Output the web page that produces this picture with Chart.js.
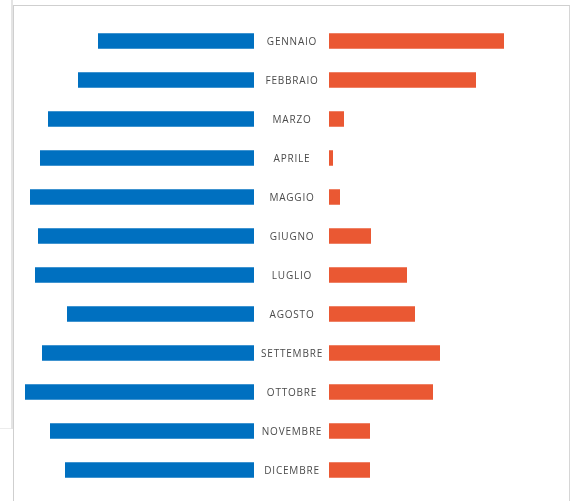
<!DOCTYPE html>
<html>
<head>
<meta charset="utf-8">
<script src="https://cdn.jsdelivr.net/npm/chart.js@4.4.1/dist/chart.umd.min.js"></script>
<style>
  html, body { margin: 0; padding: 0; background: #ffffff; }
  body { width: 573px; height: 501px; position: relative; overflow: hidden; }
  canvas { position: absolute; left: 0; top: 0; }
  .frame { position: absolute; left: 13px; top: 5px; width: 555px; height: 600px;
           border-top: 1px solid #cfcfcf; border-left: 1px solid #cfcfcf; border-right: 1px solid #d6d6d6; }
  .band { position: absolute; left: 11px; top: 0; width: 2px; height: 429px; background: #e4e4e4; }
  .tick { position: absolute; left: 0; top: 428px; width: 11px; height: 1px; background: #ececec; }
</style>
</head>
<body>
<div class="band"></div>
<div class="tick"></div>
<div class="frame"></div>
<canvas id="left" width="573" height="501"></canvas>
<canvas id="right" width="573" height="501"></canvas>
<script>
// Months (categories)
const months = ['GENNAIO', 'FEBBRAIO', 'MARZO', 'APRILE', 'MAGGIO', 'GIUGNO',
                'LUGLIO', 'AGOSTO', 'SETTEMBRE', 'OTTOBRE', 'NOVEMBRE', 'DICEMBRE'];
// Left-hand series (blue, grows leftwards)
const seriesLeft = [78, 88, 103, 107, 112, 108, 109.5, 93.5, 106, 114.5, 102, 94.5];
// Right-hand series (orange, grows rightwards)
const seriesRight = [87.5, 73.5, 7.5, 2, 5.5, 21, 39, 43, 55.5, 52, 20.5, 20.5];
const axisMax = 120;

const BLUE = '#0070C0';
const ORANGE = '#EA5833';

// Month names centred in the gap between the two halves
const monthLabels = {
  id: 'monthLabels',
  afterDraw(chart) {
    const { ctx, scales: { y } } = chart;
    ctx.save();
    ctx.font = '10px "Open Sans"';
    ctx.fillStyle = '#4a4a4a';
    ctx.textAlign = 'center';
    ctx.textBaseline = 'middle';
    if ('letterSpacing' in ctx) ctx.letterSpacing = '0.8px';
    months.forEach((m, i) => {
      ctx.fillText(m, 292, y.getPixelForValue(i) + 1.5);
    });
    ctx.restore();
  }
};

function baseOptions(reverse, padding) {
  return {
    indexAxis: 'y',
    responsive: false,
    animation: false,
    devicePixelRatio: 1,
    layout: { padding },
    plugins: { legend: { display: false }, tooltip: { enabled: false } },
    scales: {
      x: { display: false, min: 0, max: axisMax, reverse },
      y: { display: false, grid: { display: false } }
    }
  };
}

new Chart(document.getElementById('left'), {
  type: 'bar',
  data: {
    labels: months,
    datasets: [{ data: seriesLeft, backgroundColor: BLUE, categoryPercentage: 1, barPercentage: 0.4 }]
  },
  options: baseOptions(true, { left: 14, right: 319, top: 21.5, bottom: 11.5 }),
  plugins: [monthLabels]
});

new Chart(document.getElementById('right'), {
  type: 'bar',
  data: {
    labels: months,
    datasets: [{ data: seriesRight, backgroundColor: ORANGE, categoryPercentage: 1, barPercentage: 0.4 }]
  },
  options: baseOptions(false, { left: 329, right: 4, top: 21.5, bottom: 11.5 })
});
</script>
</body>
</html>
